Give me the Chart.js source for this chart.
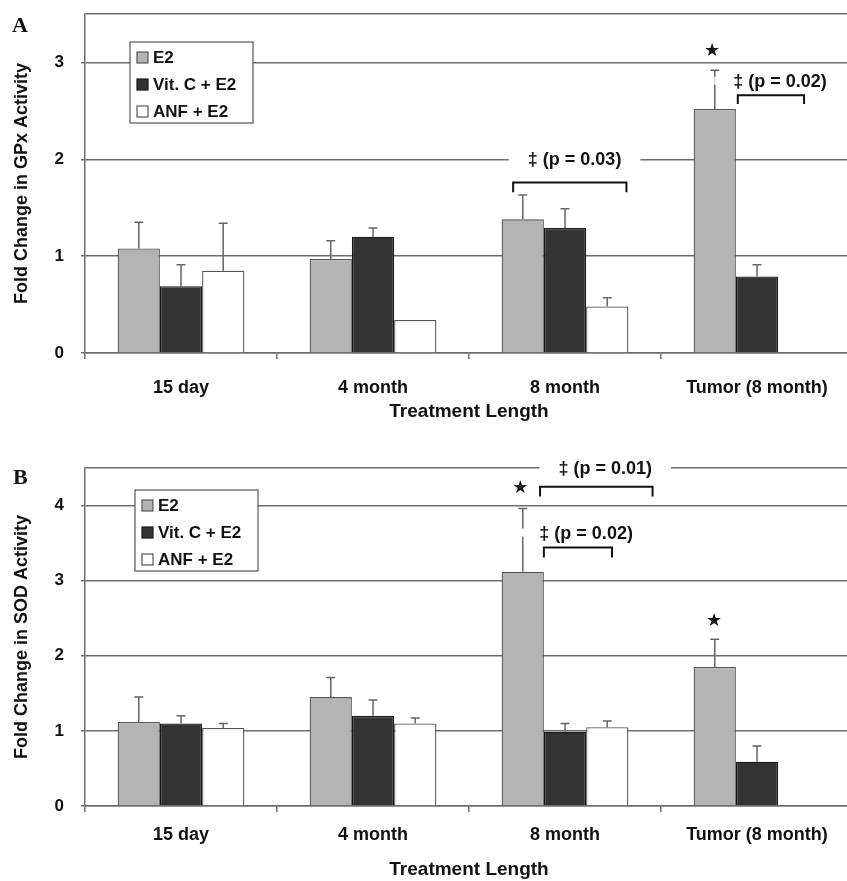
<!DOCTYPE html>
<html>
<head>
<meta charset="utf-8">
<script src="https://cdn.jsdelivr.net/npm/chart.js@4.4.1/dist/chart.umd.min.js"></script>
<style>
  html, body { margin: 0; padding: 0; background: #fff; overflow: hidden; width: 847px; height: 881px; }
  .wrap { position: absolute; left: 0; width: 855px; }
  .letter { position: absolute; font: bold 22px/22px "Liberation Serif", "Times New Roman", serif; color: #111; }
</style>
</head>
<body>
<div class="wrap" style="top:0;height:430px"><canvas id="chartA" width="855" height="430"></canvas></div>
<div class="wrap" style="top:440px;height:441px"><canvas id="chartB" width="855" height="441"></canvas></div>
<div class="letter" style="left:12px;top:14px">A</div>
<div class="letter" style="left:13px;top:466px">B</div>
<script>
// categories and series
const categories = ['15 day', '4 month', '8 month', 'Tumor (8 month)'];
const seriesNames = ['E2', 'Vit. C + E2', 'ANF + E2'];

// panel A - GPx
const gpxE2 = [1.08, 0.97, 1.38, 2.52];
const gpxVitC = [0.69, 1.20, 1.29, 0.79];
const gpxANF = [0.85, 0.34, 0.48, null];
// top of the error whiskers
const gpxE2Top = [1.35, 1.16, 1.63, 2.92];
const gpxVitCTop = [0.91, 1.29, 1.49, 0.91];
const gpxANFTop = [1.34, null, 0.57, null];
const gpxMax = 3.5;

// panel B - SOD
const sodE2 = [1.12, 1.45, 3.12, 1.85];
const sodVitC = [1.10, 1.20, 0.99, 0.59];
const sodANF = [1.04, 1.10, 1.05, null];
const sodE2Top = [1.45, 1.71, 3.96, 2.22];
const sodVitCTop = [1.20, 1.41, 1.10, 0.80];
const sodANFTop = [1.10, 1.17, 1.13, null];
const sodMax = 4.5;

// significance marks (x in category units, y in data units)
const gpxStars = [[2.766, 3.12]];
const gpxBrackets = [[1.73, 2.32, 1.76, 1.66], [2.90, 3.245, 2.66, 2.57]];
const gpxLabels = [['‡ (p = 0.03)', 2.05, 2.0], ['‡ (p = 0.02)', 3.12, 2.81]];

const sodStars = [[1.767, 4.24], [2.777, 2.47]];
const sodBrackets = [[1.87, 2.456, 4.25, 4.12], [1.89, 2.245, 3.44, 3.31]];
const sodLabels = [['‡ (p = 0.01)', 2.21, 4.5], ['‡ (p = 0.02)', 2.11, 3.64]];

const FONT = '"Liberation Sans", Arial, sans-serif';
const fills = ['#b4b4b4', '#333333', '#ffffff'];
const borders = ['#555555', '#1a1a1a', '#555555'];
const GRID = '#6e6e6e';

const errorBars = {
  id: 'errorBars',
  afterDatasetsDraw(chart) {
    const ctx = chart.ctx, y = chart.scales.y;
    ctx.save();
    ctx.strokeStyle = '#666';
    ctx.lineWidth = 1.5;
    chart.data.datasets.forEach((ds, i) => {
      chart.getDatasetMeta(i).data.forEach((bar, j) => {
        const top = ds.errTop[j];
        if (top == null || ds.data[j] == null) return;
        const yt = y.getPixelForValue(top), yb = y.getPixelForValue(ds.data[j]);
        ctx.beginPath();
        ctx.moveTo(bar.x, yb); ctx.lineTo(bar.x, yt);
        ctx.moveTo(bar.x - 4.5, yt); ctx.lineTo(bar.x + 4.5, yt);
        ctx.stroke();
      });
    });
    ctx.restore();
  }
};

const boxLegend = {
  id: 'boxLegend',
  afterDatasetsDraw(chart, args, opts) {
    const ctx = chart.ctx, area = chart.chartArea;
    const bx = area.left + opts.dx, by = area.top + opts.dy;
    ctx.save();
    ctx.fillStyle = '#fff';
    ctx.strokeStyle = '#555';
    ctx.lineWidth = 1.2;
    ctx.fillRect(bx, by, 123, 81);
    ctx.strokeRect(bx, by, 123, 81);
    ctx.font = 'bold 17px ' + FONT;
    ctx.textBaseline = 'middle';
    chart.data.datasets.forEach((ds, i) => {
      const ry = by + 15 + i * 27;
      ctx.fillStyle = ds.backgroundColor;
      ctx.fillRect(bx + 7, ry - 5, 11, 11);
      ctx.strokeStyle = ds.borderColor;
      ctx.strokeRect(bx + 7, ry - 5, 11, 11);
      ctx.fillStyle = '#111';
      ctx.fillText(ds.label, bx + 23, ry + 1);
    });
    ctx.restore();
  }
};

const sigMarks = {
  id: 'sigMarks',
  afterDatasetsDraw(chart, args, opts) {
    const ctx = chart.ctx, x = chart.scales.x, y = chart.scales.y;
    ctx.save();
    ctx.strokeStyle = '#111';
    ctx.lineWidth = 2;
    opts.brackets.forEach(([x1, x2, yv, ye]) => {
      const px1 = x.getPixelForValue(x1), px2 = x.getPixelForValue(x2);
      const py = y.getPixelForValue(yv), pe = y.getPixelForValue(ye);
      ctx.beginPath();
      ctx.moveTo(px1, pe); ctx.lineTo(px1, py); ctx.lineTo(px2, py); ctx.lineTo(px2, pe);
      ctx.stroke();
    });
    ctx.font = 'bold 18px ' + FONT;
    ctx.textAlign = 'center';
    ctx.textBaseline = 'middle';
    opts.labels.forEach(([txt, xv, yv]) => {
      const px = x.getPixelForValue(xv), py = y.getPixelForValue(yv);
      const w = ctx.measureText(txt).width + 38;
      ctx.fillStyle = '#fff';
      ctx.fillRect(px - w / 2, py - 4, w, 8);
      ctx.fillStyle = '#111';
      ctx.fillText(txt, px, py + 1);
    });
    ctx.font = 'bold 18px "DejaVu Sans", sans-serif';
    opts.stars.forEach(([xv, yv]) => {
      ctx.fillText('★', x.getPixelForValue(xv), y.getPixelForValue(yv) + 1);
    });
    ctx.restore();
  }
};

function makePanel(id, cfg) {
  const datasets = [cfg.e2, cfg.vitc, cfg.anf].map((d, i) => ({
    label: seriesNames[i],
    data: d,
    errTop: cfg.tops[i],
    backgroundColor: fills[i],
    borderColor: borders[i],
    borderWidth: 1.3,
    categoryPercentage: 0.66,
    barPercentage: 1
  }));
  const hideTop = c => (c.tick && c.tick.value === cfg.max ? 'transparent' : GRID);
  return new Chart(document.getElementById(id), {
    type: 'bar',
    data: { labels: categories, datasets },
    options: {
      responsive: false,
      animation: false,
      devicePixelRatio: 1,
      layout: { padding: { top: cfg.top, right: 2, left: 0, bottom: 0 } },
      plugins: {
        legend: { display: false },
        tooltip: { enabled: false },
        boxLegend: cfg.legendAt,
        sigMarks: { brackets: cfg.brackets, labels: cfg.labels, stars: cfg.stars }
      },
      scales: {
        x: {
          offset: true,
          grid: { offset: true, drawOnChartArea: false, drawTicks: true, tickLength: 6, color: GRID, lineWidth: 1.5 },
          border: { display: true, color: GRID, width: 1.5 },
          ticks: { color: '#111', font: { family: FONT, size: 18, weight: 'bold' }, padding: cfg.tickPad, maxRotation: 0 },
          title: { display: true, text: 'Treatment Length', color: '#111', font: { family: FONT, size: 19, weight: 'bold' }, padding: { top: 0, bottom: cfg.titlePad } },
          afterFit: s => { s.height = cfg.xHeight; s.paddingLeft = 0; s.paddingRight = 0; }
        },
        y: {
          min: 0,
          max: cfg.max,
          ticks: {
            stepSize: 1,
            color: '#111',
            padding: 17,
            font: { family: FONT, size: 17, weight: 'bold' },
            callback: v => (Number.isInteger(v) ? v : '')
          },
          grid: { color: GRID, tickColor: hideTop, lineWidth: 1.5, tickLength: 4 },
          border: { display: true, color: GRID, width: 1.5 },
          title: { display: true, text: cfg.yTitle, color: '#111', font: { family: FONT, size: 18, weight: 'bold' }, padding: { top: 11, bottom: 0 } },
          afterFit: s => { s.width = 85; s.paddingTop = 0; s.paddingBottom = 0; }
        }
      }
    },
    plugins: [errorBars, boxLegend, sigMarks]
  });
}

makePanel('chartA', {
  e2: gpxE2, vitc: gpxVitC, anf: gpxANF,
  tops: [gpxE2Top, gpxVitCTop, gpxANFTop],
  max: gpxMax, top: 14, xHeight: 77, tickPad: 18, titlePad: 7,
  yTitle: 'Fold Change in GPx Activity',
  legendAt: { dx: 45, dy: 28 },
  brackets: gpxBrackets, labels: gpxLabels, stars: gpxStars
});

makePanel('chartB', {
  e2: sodE2, vitc: sodVitC, anf: sodANF,
  tops: [sodE2Top, sodVitCTop, sodANFTop],
  max: sodMax, top: 28, xHeight: 75, tickPad: 12, titlePad: 0,
  yTitle: 'Fold Change in SOD Activity',
  legendAt: { dx: 50, dy: 22 },
  brackets: sodBrackets, labels: sodLabels, stars: sodStars
});
</script>
</body>
</html>
